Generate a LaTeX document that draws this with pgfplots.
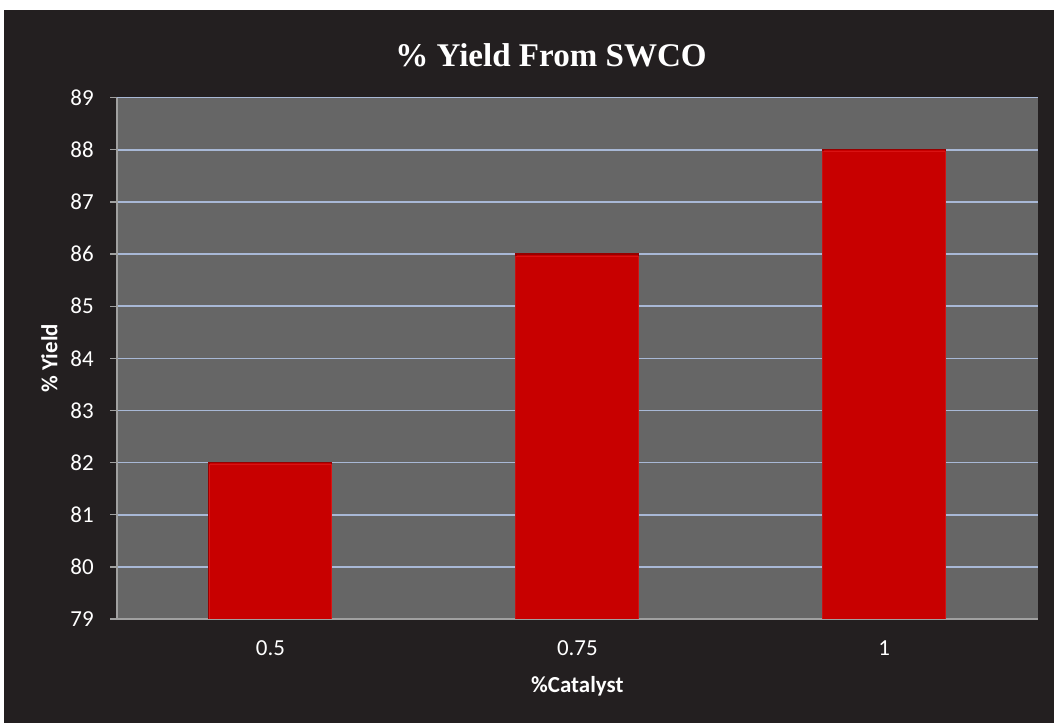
\documentclass[border=0pt]{standalone}
\usepackage{pgfplots}
\pgfplotsset{compat=1.18}
\usepackage{fontspec}
\setmainfont{Carlito}
\newfontfamily\titlefont{Liberation Serif}

\definecolor{chartbg}{HTML}{231F20}
\definecolor{plotbg}{HTML}{666666}
\definecolor{gridblue}{HTML}{A8B8D6}
\definecolor{axisgray}{HTML}{A0A0A0}
\definecolor{barred}{HTML}{C80000}
\definecolor{baredge}{HTML}{960000}
\definecolor{barhi}{HTML}{E82424}

\begin{document}
\begin{tikzpicture}
% page with a thin white margin and the dark chart area
\fill[white] (0,0) rectangle (790.5pt,542.25pt);
\fill[chartbg] (3pt,0) rectangle (790.5pt,534.75pt);
\begin{axis}[
  at={(87.75pt,78pt)}, anchor=south west,
  scale only axis, width=690.5pt, height=391pt,
  axis background/.style={fill=plotbg},
  axis x line=bottom, axis y line=left,
  axis line style={-, draw=axisgray, line width=1pt},
  xmin=0.5, xmax=3.5, ymin=79, ymax=89,
  xtick={1,2,3}, xticklabels={0.5,0.75,1},
  ytick={79,80,...,89},
  xtick style={draw=none},
  ytick style={draw=axisgray, line width=1pt},
  major tick length=5.25pt, tick align=outside,
  ymajorgrids,
  major grid style={draw=gridblue, line width=1.2pt},
  /pgf/number format/assume math mode=true,
  ticklabel style={font=\fontsize{17.2}{20}\selectfont, text=white},
  xticklabel style={anchor=north, inner sep=0pt, yshift=-11pt},
  yticklabel style={anchor=east, inner sep=0pt, xshift=-12pt},
  title={\% Yield From SWCO},
  title style={at={(axis description cs:0.4714,1)}, anchor=base, yshift=17pt,
    font=\titlefont\bfseries\fontsize{24.8}{28}\selectfont, text=white},
  xlabel={\%Catalyst},
  xlabel style={at={(axis description cs:0.5,0)}, anchor=base, yshift=-55.3pt,
    font=\bfseries\fontsize{17.2}{20}\selectfont, text=white},
  ylabel={\% Yield},
  ylabel style={at={(axis description cs:-0.0648,0.5)}, anchor=base, rotate=0,
    font=\bfseries\fontsize{17.2}{20}\selectfont, text=white},
  ybar, bar width=0.4,
]
% bevelled red bars: darker rim, lighter inner edge
\addplot[fill=barred, draw=baredge, line width=1pt,
  postaction={draw=barhi, line width=0.8pt, shorten >=0pt,
    transform canvas={yshift=-1.6pt}, draw opacity=0.55}]
  coordinates {(1,82) (2,86) (3,88)};
\end{axis}
\pgfresetboundingbox
\useasboundingbox (0,0) rectangle (790.5pt,542.25pt);
\end{tikzpicture}
\end{document}
